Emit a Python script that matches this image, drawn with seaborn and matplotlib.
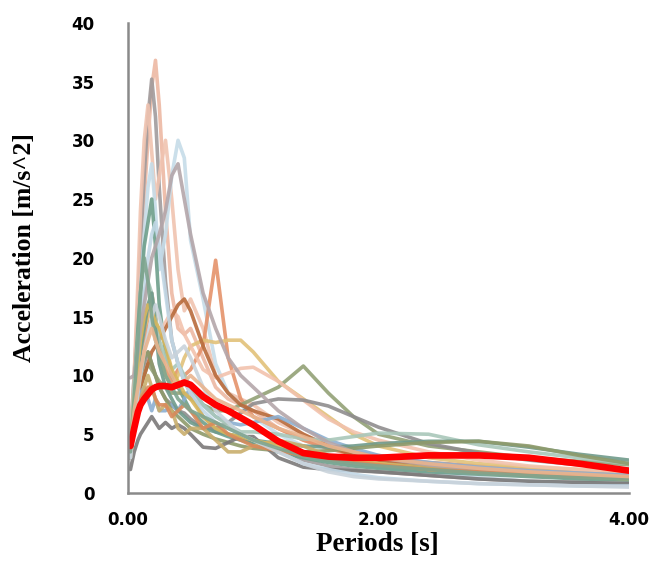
import numpy as np
import pandas as pd
import seaborn as sns
import matplotlib.pyplot as plt

# periods [s]
periods = [0.02, 0.05, 0.08, 0.10, 0.13, 0.16, 0.19, 0.22, 0.25, 0.30, 0.35, 0.40, 0.45, 0.50,
           0.60, 0.70, 0.80, 0.90, 1.00, 1.20, 1.40, 1.60, 1.80, 2.00, 2.40, 2.80, 3.20, 3.60, 4.00]

# spectral accelerations of each record [m/s^2]
rec01 = [4.0, 9.5, 15.0, 19.0, 25.0, 30.0, 34.5, 36.8, 33.0, 24.0, 17.0, 14.0, 13.5, 14.0, 11.5, 9.0, 8.0, 7.5, 7.0, 5.5, 4.5, 3.8, 3.2, 2.8, 2.2, 1.8, 1.5, 1.3, 1.1]
rec02 = [5.0, 10.0, 16.0, 21.0, 27.0, 32.0, 35.2, 32.0, 26.0, 18.0, 13.0, 11.0, 9.5, 8.5, 6.5, 5.5, 5.0, 4.6, 4.2, 3.5, 2.8, 2.3, 2.0, 1.8, 1.5, 1.2, 1.0, 0.9, 0.8]
rec03 = [4.5, 10.0, 18.0, 24.0, 30.0, 33.0, 29.0, 25.0, 27.0, 30.0, 25.0, 19.0, 15.5, 16.5, 14.0, 10.0, 8.5, 8.0, 7.5, 6.0, 5.0, 4.0, 3.5, 3.2, 2.5, 2.0, 1.7, 1.4, 1.2]
rec04 = [3.5, 8.0, 13.0, 17.0, 22.0, 26.0, 28.0, 24.0, 19.0, 22.0, 27.0, 30.0, 28.5, 21.5, 16.5, 11.0, 8.5, 7.5, 6.5, 5.0, 4.0, 3.0, 2.5, 2.2, 1.7, 1.3, 1.0, 0.8, 0.7]
rec05 = [3.0, 6.0, 9.0, 11.0, 13.0, 15.0, 17.0, 15.0, 12.5, 10.5, 9.5, 10.5, 10.0, 10.5, 12.5, 19.8, 11.5, 8.0, 6.5, 5.5, 4.5, 3.8, 3.3, 3.0, 2.6, 2.3, 2.0, 1.8, 1.6]
rec06 = [4.0, 9.0, 14.0, 17.0, 21.0, 23.0, 25.0, 21.0, 16.0, 12.0, 10.0, 9.0, 8.0, 7.0, 6.0, 5.2, 4.8, 4.5, 4.2, 3.5, 3.0, 2.6, 2.3, 2.1, 1.8, 1.6, 1.4, 1.2, 1.1]
rec07 = [3.5, 7.0, 10.0, 12.0, 14.0, 15.0, 15.5, 14.0, 12.0, 10.0, 9.0, 10.0, 11.5, 12.5, 13.0, 12.8, 13.0, 13.0, 12.0, 9.5, 8.0, 6.5, 5.0, 4.0, 3.0, 2.5, 2.2, 2.0, 1.8]
rec08 = [3.0, 6.0, 8.0, 9.0, 10.0, 11.0, 10.5, 10.0, 9.5, 9.0, 8.5, 8.5, 8.5, 8.0, 7.5, 7.0, 7.0, 7.5, 8.0, 9.0, 10.8, 8.5, 6.5, 5.0, 4.0, 3.5, 3.0, 2.7, 2.4]
rec09 = [5.0, 9.0, 12.0, 13.5, 15.0, 16.0, 15.0, 14.0, 13.5, 14.5, 15.5, 15.0, 13.5, 12.5, 10.5, 9.8, 10.2, 10.6, 10.7, 9.5, 7.9, 6.3, 5.2, 4.5, 3.5, 2.8, 2.3, 2.0, 1.8]
rec10 = [4.0, 7.0, 9.0, 10.0, 11.0, 12.0, 11.0, 10.0, 9.0, 8.0, 7.5, 7.0, 6.8, 6.3, 5.5, 5.5, 6.0, 6.8, 7.6, 8.0, 7.9, 7.4, 6.5, 5.6, 4.2, 3.4, 2.8, 2.4, 2.0]
rec11 = [3.0, 6.0, 8.0, 9.0, 10.0, 11.0, 12.0, 12.5, 13.0, 14.0, 15.0, 16.0, 16.5, 15.5, 12.5, 10.0, 8.5, 7.5, 7.0, 6.3, 5.0, 4.0, 3.2, 2.8, 2.3, 2.0, 1.7, 1.5, 1.3]
rec12 = [3.5, 6.5, 8.0, 8.5, 9.0, 8.0, 7.0, 8.0, 7.0, 7.0, 7.5, 7.0, 8.0, 9.0, 7.5, 6.5, 6.0, 5.8, 6.0, 6.5, 5.5, 4.5, 3.8, 3.2, 2.6, 2.2, 1.9, 1.7, 1.5]
rec13 = [4.5, 9.0, 13.0, 15.0, 17.0, 18.0, 17.0, 15.0, 13.0, 11.5, 10.5, 11.0, 10.0, 9.0, 7.5, 6.5, 5.8, 5.2, 5.2, 5.0, 4.6, 4.5, 4.8, 5.1, 5.0, 4.1, 3.5, 3.0, 2.5]
rec14 = [3.0, 7.0, 10.0, 12.0, 14.0, 16.0, 17.0, 14.0, 11.0, 9.0, 8.0, 7.0, 6.5, 6.0, 5.5, 5.2, 5.0, 4.8, 4.5, 4.2, 4.0, 3.9, 4.0, 4.2, 4.4, 4.4, 3.9, 3.3, 2.8]
rec15 = [3.5, 7.0, 9.0, 10.0, 11.5, 12.0, 11.0, 10.0, 9.0, 8.0, 7.0, 6.5, 6.0, 5.5, 5.0, 4.6, 4.3, 4.0, 3.8, 3.6, 3.5, 3.6, 3.8, 4.0, 4.3, 4.4, 4.0, 3.2, 2.5]
rec16 = [2.0, 3.5, 4.5, 5.0, 5.5, 6.0, 6.5, 6.0, 5.5, 6.0, 5.5, 5.8, 5.5, 5.0, 3.9, 3.8, 4.3, 4.8, 4.8, 3.0, 2.2, 2.0, 1.9, 1.8, 1.5, 1.2, 1.0, 0.9, 0.8]
rec17 = [3.0, 5.5, 7.0, 8.0, 9.0, 10.0, 9.0, 8.0, 7.0, 7.5, 7.0, 5.5, 5.0, 5.5, 5.5, 4.5, 3.5, 3.5, 4.0, 4.5, 4.0, 3.2, 2.8, 2.5, 2.2, 1.9, 1.7, 1.5, 1.3]
rec18 = [3.0, 7.0, 11.0, 14.0, 17.0, 20.0, 22.0, 23.0, 21.0, 17.0, 13.0, 11.0, 9.5, 8.5, 7.0, 6.0, 5.5, 5.0, 4.5, 3.5, 2.5, 2.0, 1.6, 1.3, 1.0, 0.8, 0.7, 0.6, 0.6]
rec19 = [4.0, 8.0, 11.0, 13.0, 15.0, 16.0, 15.5, 14.5, 14.0, 12.5, 10.5, 9.5, 8.5, 8.0, 6.5, 5.5, 5.0, 4.8, 4.5, 4.0, 3.5, 3.0, 2.7, 2.5, 2.0, 1.8, 1.6, 1.4, 1.2]
rec20 = [9.8, 10.0, 12.0, 14.0, 16.0, 18.0, 20.0, 21.0, 22.0, 24.0, 27.0, 28.0, 25.0, 22.0, 17.0, 14.0, 11.5, 10.0, 9.0, 7.0, 5.5, 4.3, 3.5, 3.0, 2.4, 2.0, 1.7, 1.5, 1.3]
rec21 = [3.5, 6.0, 7.5, 8.0, 8.5, 9.0, 9.0, 8.0, 7.5, 7.5, 6.5, 7.0, 7.5, 7.0, 5.5, 6.0, 5.0, 4.5, 4.0, 3.6, 3.2, 2.9, 2.6, 2.4, 2.0, 1.8, 1.6, 1.4, 1.3]
rec22 = [3.0, 6.0, 8.5, 10.0, 12.0, 13.5, 15.0, 16.0, 15.0, 13.0, 11.5, 12.0, 12.5, 11.5, 9.0, 7.0, 6.0, 5.0, 4.5, 3.5, 2.5, 1.8, 1.4, 1.2, 1.0, 0.8, 0.7, 0.6, 0.5]
rec23 = [3.5, 8.0, 13.0, 17.0, 20.0, 18.0, 15.0, 13.0, 12.0, 10.0, 9.0, 8.0, 7.5, 7.0, 6.5, 6.0, 5.5, 5.0, 4.5, 3.8, 3.2, 2.8, 2.5, 2.3, 2.0, 1.7, 1.5, 1.3, 1.2]
rec24 = [4.0, 7.0, 9.0, 10.5, 12.0, 13.0, 14.0, 13.0, 12.0, 11.0, 10.0, 9.0, 9.5, 10.0, 9.0, 8.0, 7.5, 7.0, 6.5, 5.5, 4.8, 4.0, 3.5, 3.0, 2.5, 2.1, 1.8, 1.6, 1.4]

# mean spectrum (red)
mean_spec = [4.0, 5.5, 6.9, 7.5, 8.0, 8.4, 8.8, 9.0, 9.1, 9.1, 9.0, 9.2, 9.4, 9.2,
             8.2, 7.5, 7.0, 6.4, 5.8, 4.4, 3.4, 3.1, 3.0, 3.0, 3.2, 3.2, 3.0, 2.5, 1.9]

records = [rec01, rec02, rec03, rec04, rec05, rec06, rec07, rec08, rec09, rec10, rec11, rec12,
           rec13, rec14, rec15, rec16, rec17, rec18, rec19, rec20, rec21, rec22, rec23, rec24]
colors = ['#EDB8A3', '#A19B9C', '#F0C3B0', '#C6DCE8', '#E5926B', '#6E9F8B', '#E2C179', '#93A176',
          '#F2C2AD', '#8F8D8E', '#B86B3C', '#8CAFD1', '#A9C7B9', '#6F9A8B', '#8E9A6B', '#7B7979',
          '#C9AE6D', '#C2D8E6', '#D9B75C', '#B4A6AA', '#D98A5B', '#C9D3DB', '#7FA58F', '#E9B48E']

rows = []
for i, r in enumerate(records):
    for t, a in zip(periods, r):
        rows.append((f'r{i+1}', t, a))
df = pd.DataFrame(rows, columns=['record', 'period', 'acc'])
df_mean = pd.DataFrame({'period': periods, 'acc': mean_spec})

sns.set_style('white')
fig = plt.figure(figsize=(6.56, 5.68), dpi=100)
ax = fig.add_axes([0.195, 0.132, 0.764, 0.828])

sns.lineplot(data=df, x='period', y='acc', hue='record', palette=colors,
             linewidth=2.6, alpha=0.9, legend=False, ax=ax)
sns.lineplot(data=df_mean, x='period', y='acc', color='#FF0000', linewidth=4.8, ax=ax)

ax.set_xlim(0, 4)
ax.set_ylim(0, 40)
ax.set_xticks([0, 2, 4])
ax.set_xticklabels(['0.00', '2.00', '4.00'])
ax.set_yticks(range(0, 41, 5))
ax.tick_params(length=0, labelcolor='black')
ax.tick_params(axis='x', pad=13)
ax.tick_params(axis='y', pad=24)
for lab in ax.get_xticklabels() + ax.get_yticklabels():
    lab.set_fontweight('bold')
    lab.set_fontsize(12)
    lab.set_family('DejaVu Sans')

sns.despine(ax=ax)
for s in ['left', 'bottom']:
    ax.spines[s].set_color('#8A8A8A')
    ax.spines[s].set_linewidth(1.8)

ax.set_xlabel('Periods [s]', family='Liberation Serif', fontweight='bold', fontsize=19.5,
              va='center', color='black')
ax.set_ylabel('Acceleration [m/s^2]', family='Liberation Serif', fontweight='bold', fontsize=18.5,
              va='center', color='black')
ax.xaxis.set_label_coords(0.497, -0.11)
ax.yaxis.set_label_coords(-0.206, 0.521)

plt.savefig('out.png', dpi=100)
